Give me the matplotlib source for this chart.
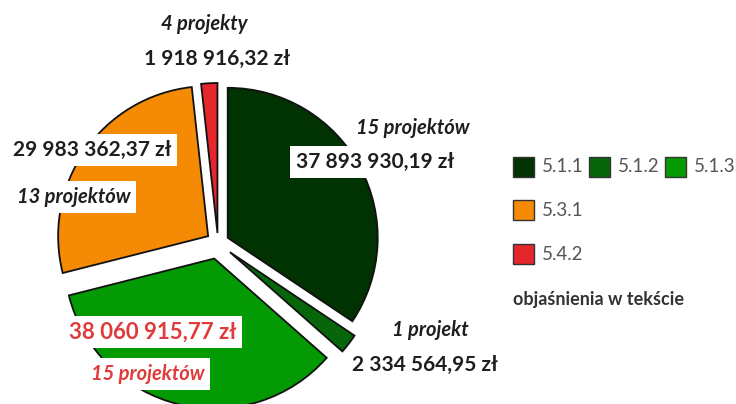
import matplotlib
matplotlib.use("Agg")
import matplotlib.pyplot as plt
from matplotlib.patches import Rectangle

categories = ["5.1.1", "5.1.2", "5.1.3", "5.3.1", "5.4.2"]
values = [37893930.19, 2334564.95, 38060915.77, 29983362.37, 1918916.32]
value_labels = ["37 893 930,19 zł", "2 334 564,95 zł", "38 060 915,77 zł",
                "29 983 362,37 zł", "1 918 916,32 zł"]
project_labels = ["15 projektów", "1 projekt", "15 projektów", "13 projektów", "4 projekty"]
colors = ["#013201", "#07660a", "#049a04", "#f58a05", "#e5272d"]
explode_px = [11, 15, 16, 12, 10]

W, H = 736, 404
fig = plt.figure(figsize=(W / 100, H / 100), dpi=100)
ax = fig.add_axes([0, 0, 1, 1])

cx, cy, R = 218, H - 243, 150
ax.pie(values, colors=colors, explode=explode_px, startangle=90, counterclock=False,
       radius=R, center=(cx, cy), frame=True,
       wedgeprops=dict(edgecolor="#111111", linewidth=1.3))
ax.set_xlim(0, W)
ax.set_ylim(0, H)
ax.set_aspect("equal")
ax.axis("off")

FONT = "Lato"
dark = "#1e1e1e"
red = "#e03a3a"
box = dict(facecolor="white", edgecolor="none", pad=4)

def T(x, y, s, size=15, color=dark, style="normal", weight="bold", bbox=None, ha="center"):
    ax.text(x, H - y, s, fontsize=size, color=color, fontstyle=style, fontweight=weight,
            family=FONT, ha=ha, va="center", bbox=bbox)

IT = 14.5
# 5.4.2
T(204, 24, project_labels[4], size=IT, style="italic")
T(217, 59, value_labels[4])
# 5.1.1
T(413, 128, project_labels[0], size=IT, style="italic")
T(375, 162, value_labels[0], bbox=box)
# 5.3.1
T(92, 150, value_labels[3], bbox=box)
T(74, 197, project_labels[3], size=IT, style="italic", bbox=box)
# 5.1.3
T(153, 332, value_labels[2], size=16, color=red, bbox=box)
T(148, 374, project_labels[2], size=IT, color=red, style="italic", bbox=box)
# 5.1.2
T(430, 330, project_labels[1], size=IT, style="italic")
T(425, 365, value_labels[1])

# legend
legend_pos = [(513, 157), (589, 157), (665, 157), (513, 200), (513, 244)]
for (lx, ly), c, lab in zip(legend_pos, colors, categories):
    ax.add_patch(Rectangle((lx, H - ly - 20), 21, 20, facecolor=c, edgecolor="#333333", linewidth=1))
    ax.text(lx + 29, H - ly - 10, lab, fontsize=13.5, color="#555555", family=FONT,
            ha="left", va="center")
ax.text(513, H - 300, "objaśnienia w tekście", fontsize=13, color="#333333", family=FONT,
        fontweight="bold", ha="left", va="center")

fig.savefig("out.png", dpi=100)
